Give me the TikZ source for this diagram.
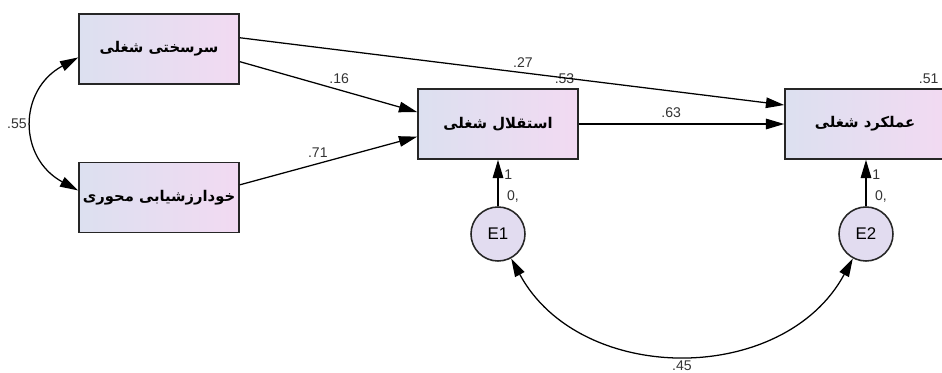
\documentclass[tikz,border=0pt]{standalone}
\usepackage{fontspec}
\setmainfont{Liberation Sans}
\newfontfamily\farsi[Script=Arabic]{DejaVu Sans}
\TeXXeTstate=1
\usetikzlibrary{arrows.meta}
\usetikzlibrary{positioning}

\definecolor{boxleft}{RGB}{220,224,240}
\definecolor{boxright}{RGB}{242,218,242}
\definecolor{errfill}{RGB}{226,220,240}

\newcommand{\fa}[1]{\makebox[3.9cm]{\farsi\bfseries\beginR #1\endR}}

\begin{document}
\begin{tikzpicture}[x=0.025cm, y=-0.025cm,
    varbox/.style={rectangle, draw=black!85, line width=1.1pt,
      minimum width=4cm, minimum height=1.75cm, inner xsep=0pt,
      left color=boxleft, right color=boxright,
      font=\fontsize{10.5}{13}\selectfont},
    errnode/.style={circle, draw=black!85, line width=1.1pt,
      minimum size=1.35cm, fill=errfill,
      font=\fontsize{12}{14}\selectfont},
    reg/.style={line width=0.9pt, -{Triangle[length=13pt,width=7.5pt]}},
    cov/.style={line width=0.9pt,
      {Triangle[length=13pt,width=7.5pt]}-{Triangle[length=13pt,width=7.5pt]}},
    lbl/.style={font=\fontsize{10}{11}\selectfont, inner sep=1pt, text=black!80},
  ]
  \useasboundingbox (0,0) rectangle (942,373);

  % observed variables
  \node[varbox] (hardy) at (159,49) {\fa{سرسختی شغلی}};
  \node[varbox] (selfeval) at (159,197.5) {\fa{خودارزشیابی محوری}};
  \node[varbox] (autonomy) at (498,124) {\fa{استقلال شغلی}};
  \node[varbox] (perf) at (865,124) {\fa{عملکرد شغلی}};

  % errors
  \node[errnode] (e1) at (498,234) {E1};
  \node[errnode] (e2) at (866,234) {E2};

  % squared multiple correlations
  \node[lbl, anchor=south east] (r2aut) at ([xshift=-2pt, yshift=2pt]autonomy.north east) {.53};
  \node[lbl, anchor=south east] (r2perf) at ([xshift=-4pt, yshift=2pt]perf.north east) {.51};

  % paths
  \draw[reg] ([yshift=8pt]hardy.east) -- node[lbl, pos=0.52, above=2pt] {.27} ([yshift=13.5pt]perf.west);
  \draw[reg] ([yshift=-9pt]hardy.east) -- node[lbl, pos=0.56, above=3pt] {.16} ([yshift=8.5pt]autonomy.west);
  \draw[reg] ([yshift=9pt]selfeval.east) -- node[lbl, pos=0.44, above=3pt] {.71} ([yshift=-9pt]autonomy.west);
  \draw[reg] (autonomy) -- node[lbl, pos=0.45, above=3pt] {.63} (perf.west |- autonomy);
  \draw[reg] (e1) -- node[lbl, pos=0.68, right=3pt] {1} node[lbl, pos=0.22, right=5pt] {0,} (autonomy);
  \draw[reg] (e2) -- node[lbl, pos=0.68, right=3pt] {1} node[lbl, pos=0.22, right=5pt] {0,} (e2 |- perf.south);

  % covariances
  \draw[cov] ([yshift=-6pt]hardy.west) .. controls (18,90) and (18,158) .. node[lbl, left=3pt] {.55} ([yshift=5pt]selfeval.west);
  \draw[cov] (e1) .. controls (580,386) and (784,386) .. node[lbl, below=3pt] {.45} (e2);
\end{tikzpicture}
\end{document}
